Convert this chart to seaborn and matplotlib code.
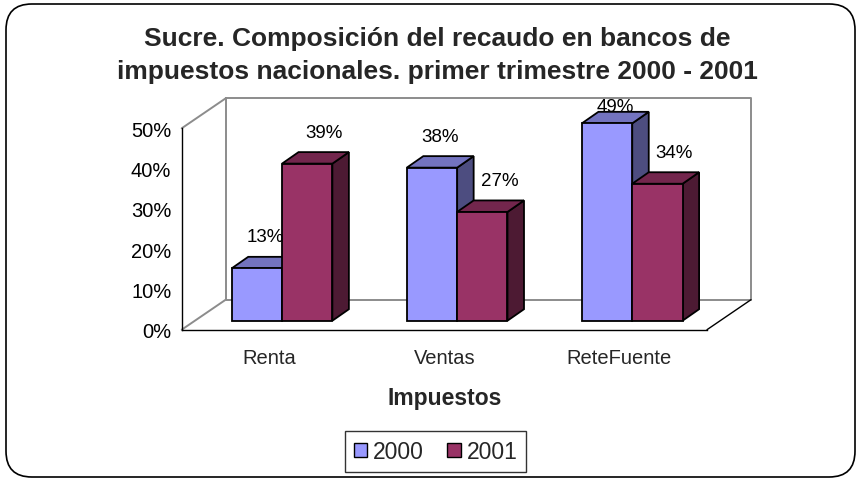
import numpy as np
import pandas as pd
import seaborn as sns
import matplotlib
matplotlib.use("Agg")
import matplotlib.pyplot as plt
from matplotlib.transforms import Affine2D, IdentityTransform
from matplotlib.patches import Polygon, FancyBboxPatch, Rectangle
from matplotlib.lines import Line2D

# ---------------- data ----------------
categories = ["Renta", "Ventas", "ReteFuente"]
series = ["2000", "2001"]
values_2000 = [0.13, 0.38, 0.49]
values_2001 = [0.39, 0.27, 0.34]
yticks = [0.0, 0.1, 0.2, 0.3, 0.4, 0.5]
title_lines = ["Sucre. Composición del recaudo en bancos de",
               "impuestos nacionales. primer trimestre 2000 - 2001"]
xlabel = "Impuestos"

df = pd.DataFrame({
    "Impuesto": categories * 2,
    "Año": [series[0]] * len(categories) + [series[1]] * len(categories),
    "valor": values_2000 + values_2001,
})

front_cols = {"2000": "#9999FF", "2001": "#993366"}
top_cols = {"2000": "#7373BF", "2001": "#73264D"}
side_cols = {"2000": "#4D4D80", "2001": "#4D1A33"}

sns.set_style("white")
plt.rcParams["font.family"] = ["Liberation Sans", "DejaVu Sans"]

W, H = 861, 481
fig = plt.figure(figsize=(W / 100, H / 100), dpi=100)
fig.patch.set_facecolor("white")

# front plane of the 3D box in image px (y down)
X0, X1, Y0, Y1 = 181.7, 707.0, 330.7, 129.3
ax = fig.add_axes([X0 / W, 1 - Y0 / H, (X1 - X0) / W, (Y0 - Y1) / H])
ax.patch.set_visible(False)

DX, DY = 44.0, 30.0        # depth of the box (display px)
BX, BY = 12.8, 9.0         # bar front offset inside the box
bx, by = 16.5, 11.5        # bar depth

sns.barplot(data=df, x="Impuesto", y="valor", hue="Año",
            palette=[front_cols[s] for s in series], width=0.575,
            edgecolor="black", linewidth=1.3, ax=ax, legend=False,
            saturation=1)
ax.set_xlim(-0.5, len(categories) - 0.5)
ax.set_ylim(0, 0.5)

# ---------------- box walls (display coords) ----------------
ident = IdentityTransform()
def L(xs, ys, color, lw, z):
    ln = Line2D(xs, [H - y for y in ys], color=color, lw=lw,
                transform=ident, zorder=z, clip_on=False)
    ax.add_artist(ln)

gray = "#8C8C8C"
# back wall
L([X0 + DX, X1 + DX, X1 + DX, X0 + DX, X0 + DX],
  [Y1 - DY, Y1 - DY, Y0 - DY, Y0 - DY, Y1 - DY], gray, 1.4, 1)
# left wall edges
L([X0, X0 + DX], [Y1, Y1 - DY], gray, 1.4, 1)
L([X0, X0 + DX], [Y0, Y0 - DY], gray, 1.4, 1)
# floor right edge
L([X1, X1 + DX], [Y0, Y0 - DY], "black", 1.0, 1)

# ---------------- 3D bars ----------------
bars = [p for p in ax.patches if isinstance(p, Rectangle) and p.get_height() > 0]
bars.sort(key=lambda p: p.get_x())
hue_of = {}
c2000 = matplotlib.colors.to_rgb(front_cols["2000"])
for p in bars:
    hue_of[id(p)] = "2000" if np.allclose(p.get_facecolor()[:3], c2000) else "2001"

off = Affine2D().translate(BX, BY)
for i, p in enumerate(bars):
    z = 3 + i * 0.1
    p.set_transform(ax.transData + off)
    p.set_clip_on(False)
    p.set_zorder(z + 0.02)
    s = hue_of[id(p)]
    (xa, ya), (xb, yb) = (ax.transData + off).transform(
        [(p.get_x(), 0), (p.get_x() + p.get_width(), p.get_height())])
    side = Polygon([(xb, ya), (xb + bx, ya + by), (xb + bx, yb + by), (xb, yb)],
                   closed=True, facecolor=side_cols[s], edgecolor="black",
                   lw=1.3, transform=ident, zorder=z, clip_on=False)
    top = Polygon([(xa, yb), (xb, yb), (xb + bx, yb + by), (xa + bx, yb + by)],
                  closed=True, facecolor=top_cols[s], edgecolor="black",
                  lw=1.3, transform=ident, zorder=z + 0.01, clip_on=False)
    ax.add_patch(side)
    ax.add_patch(top)
    v = p.get_height()
    ly = min(v + 0.078, 0.533)
    lx_off = 8 if s == "2000" else 17
    ax.annotate(f"{v:.0%}", xy=(p.get_x() + p.get_width() / 2, ly),
                xycoords=ax.transData + off,
                xytext=(lx_off * 0.72, 0), textcoords="offset points",
                ha="center", va="center", fontsize=13.5, color="black",
                zorder=10, annotation_clip=False)

# ---------------- axes styling ----------------
for sp in ["top", "right"]:
    ax.spines[sp].set_visible(False)
for sp in ["left", "bottom"]:
    ax.spines[sp].set_color("black")
    ax.spines[sp].set_linewidth(1.0)
ax.set_yticks(yticks)
ax.set_yticklabels([f"{t:.0%}" for t in yticks], fontsize=14.5)
ax.tick_params(axis="y", direction="out", length=5.5, width=1, pad=2, colors="black")
ax.set_xticks(range(len(categories)))
ax.set_xticklabels(categories, fontsize=14.5)
ax.set_xticks([i - 0.5 for i in range(len(categories) + 1)], minor=True)
ax.tick_params(axis="x", which="major", length=0, pad=13)
ax.tick_params(axis="x", which="minor", direction="out", length=5.5, width=1)
ax.set_xlabel(xlabel, fontsize=16.5, fontweight="bold", labelpad=14)
ax.set_ylabel("")

# ---------------- title ----------------
fig.text(437 / W, 1 - 39 / H, title_lines[0], ha="center", va="center",
         fontsize=19, fontweight="bold")
fig.text(437 / W, 1 - 72 / H, title_lines[1], ha="center", va="center",
         fontsize=19, fontweight="bold")

# ---------------- legend ----------------
handles = [Rectangle((0, 0), 1, 1, facecolor=front_cols[s], edgecolor="black", lw=1)
           for s in series]
leg = fig.legend(handles, series, loc="center", bbox_to_anchor=(435.5 / W, 1 - 452.5 / H),
                 ncol=2, fontsize=16.5, frameon=True, fancybox=False,
                 handlelength=0.6, handleheight=0.6, handletextpad=0.25,
                 columnspacing=1.0, borderpad=0.4, borderaxespad=0)
leg.get_frame().set_edgecolor("black")
leg.get_frame().set_linewidth(1.0)

# ---------------- outer border ----------------
border = FancyBboxPatch((6 / W, 3 / H), (W - 12) / W, (H - 8) / H,
                        boxstyle="round,pad=0,rounding_size=0.03",
                        transform=fig.transFigure, facecolor="none",
                        edgecolor="black", lw=1.2, mutation_aspect=W / H)
fig.add_artist(border)

fig.savefig("out.png", dpi=100)
